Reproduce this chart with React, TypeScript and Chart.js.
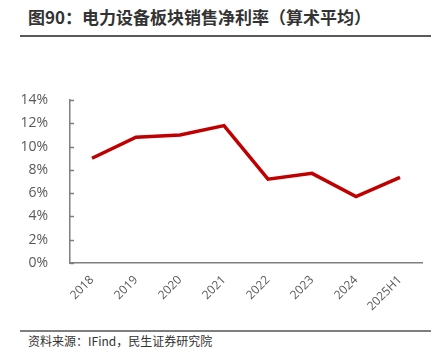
import React, { useEffect, useRef } from "react";
import { Chart, registerables } from "chart.js";

Chart.register(...registerables);

const categories = ["2018", "2019", "2020", "2021", "2022", "2023", "2024", "2025H1"];
const netMargin = [9.0, 10.8, 11.0, 11.8, 7.2, 7.7, 5.7, 7.35];
const yTicks = [0, 2, 4, 6, 8, 10, 12, 14];
const titleText = "图90：电力设备板块销售净利率（算术平均）";
const sourceText = "资料来源：IFind，民生证券研究院";

const innerTicks = {
  id: "innerTicks",
  afterDatasetsDraw(chart: any) {
    const y = chart.scales.y;
    const ctx = chart.ctx;
    ctx.save();
    ctx.strokeStyle = "#7f7f7f";
    ctx.lineWidth = 1.5;
    yTicks.forEach((v) => {
      const py = Math.round(y.getPixelForValue(v)) + 0.5;
      ctx.beginPath();
      ctx.moveTo(y.right, py);
      ctx.lineTo(y.right + 4, py);
      ctx.stroke();
    });
    ctx.restore();
  },
};

export default function App() {
  const ref = useRef<HTMLCanvasElement>(null);
  useEffect(() => {
    document.body.style.margin = "0";
    const chart = new Chart(ref.current!, {
      type: "line",
      data: {
        labels: categories,
        datasets: [
          {
            data: netMargin,
            borderColor: "#c00000",
            borderWidth: 3.5,
            pointRadius: 0,
            tension: 0,
            fill: false,
          },
        ],
      },
      options: {
        animation: false,
        responsive: false,
        layout: { padding: { top: 10, right: 24, left: 0, bottom: 0 } },
        plugins: { legend: { display: false }, tooltip: { enabled: false } },
        scales: {
          x: {
            offset: true,
            grid: { display: false },
            border: { display: true, color: "#7f7f7f", width: 1.5 },
            ticks: {
              minRotation: 45,
              maxRotation: 45,
              color: "#595959",
              font: { family: "'Open Sans', 'Noto Sans', sans-serif", size: 12 },
              padding: 2,
            },
            afterFit: (s: any) => {
              s.height = 67;
              s.paddingLeft = 0;
              s.paddingRight = 0;
            },
          },
          y: {
            min: 0,
            max: 14,
            afterBuildTicks: (s: any) => {
              s.ticks = yTicks.map((v) => ({ value: v }));
            },
            grid: { display: false },
            border: { display: true, color: "#7f7f7f", width: 1.5 },
            ticks: {
              color: "#595959",
              font: { family: "'Open Sans', 'Noto Sans', sans-serif", size: 14 },
              callback: (v: any) => v + "%",
              padding: 14,
            },
            afterFit: (s: any) => {
              s.width = 70;
              s.paddingTop = 0;
              s.paddingBottom = 0;
            },
          },
        },
      },
      plugins: [innerTicks],
    });
    return () => chart.destroy();
  }, []);

  return (
    <div style={{ position: "relative", width: 446, height: 363, background: "#fff", fontFamily: "'Noto Sans CJK SC', sans-serif" }}>
      <div
        style={{
          position: "absolute",
          left: 28,
          top: 5,
          fontSize: 17,
          fontWeight: "bold",
          color: "#333",
          whiteSpace: "nowrap",
          lineHeight: "24px",
        }}
      >
        {titleText}
      </div>
      <div style={{ position: "absolute", left: 20, top: 35, width: 411, height: 2, background: "#595959" }} />
      <canvas ref={ref} width={446} height={240} style={{ position: "absolute", left: 0, top: 90 }} />
      <div style={{ position: "absolute", left: 20, top: 330, width: 411, height: 1.5, background: "#7f7f7f" }} />
      <div
        style={{
          position: "absolute",
          left: 28,
          top: 333,
          fontSize: 12,
          color: "#333",
          whiteSpace: "nowrap",
          lineHeight: "16px",
        }}
      >
        {sourceText}
      </div>
    </div>
  );
}
